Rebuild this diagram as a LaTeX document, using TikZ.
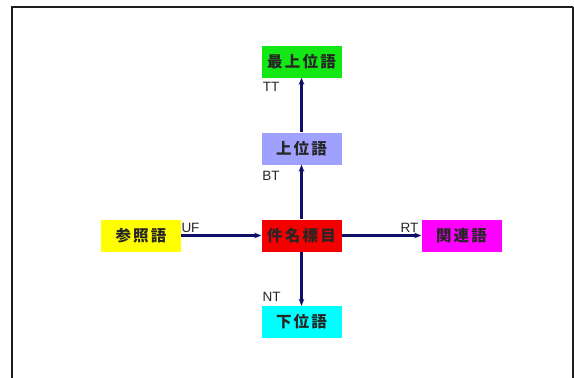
\documentclass[tikz,border=0pt]{standalone}
\usepackage{fontspec}
\setmainfont{Liberation Sans}
\newfontfamily\cjk{Noto Sans CJK JP}[LetterSpace=14]
\usetikzlibrary{arrows.meta}
\definecolor{cgreen}{RGB}{20,232,20}
\definecolor{clav}{RGB}{160,160,255}
\definecolor{cred}{RGB}{245,0,0}
\definecolor{cyel}{RGB}{255,255,0}
\definecolor{cmag}{RGB}{255,0,255}
\definecolor{ccyan}{RGB}{0,255,255}
\definecolor{navy}{RGB}{16,16,106}
\definecolor{frame}{RGB}{30,30,30}
\begin{document}
\begin{tikzpicture}[x=1pt,y=-1pt,
  termbox/.style={minimum width=80pt,minimum height=32pt,inner sep=0pt,
    font=\cjk\bfseries\fontsize{15.5}{15.5}\selectfont,text=black!85},
  conn/.style={draw=navy,line width=2.2pt,-{Stealth[length=7pt,width=5.5pt]}},
  rel/.style={font=\fontsize{13.5}{13.5}\selectfont,inner sep=0pt,text=black!85}]
\useasboundingbox (0,0) rectangle (574,378);
\fill[white] (0,0) rectangle (574,378);
\draw[frame,line width=2pt] (12,378) -- (12,7) -- (573,7);
\draw[frame,line width=1.5pt] (573,7) -- (573,378);
\node[termbox,fill=cgreen] (tt) at (301.5,61.5) {最上位語};
\node[termbox,fill=clav] (bt) at (301.5,148.5) {上位語};
\node[termbox,fill=cred] (main) at (301.5,235.5) {件名標目};
\node[termbox,fill=cyel] (uf) at (141,235.5) {参照語};
\node[termbox,fill=cmag] (rt) at (461.5,235.5) {関連語};
\node[termbox,fill=ccyan] (nt) at (301.5,322) {下位語};
\draw[conn] (bt) -- (tt);
\draw[conn] (main) -- (bt);
\draw[conn] (main) -- (nt);
\draw[conn] (uf) -- (main);
\draw[conn] (main) -- (rt);
\node[rel] (ltt) at (271,87) {TT};
\node[rel] (lbt) at (271,175.5) {BT};
\node[rel] (lnt) at (271.5,296.5) {NT};
\node[rel] (luf) at (190.5,228) {UF};
\node[rel] (lrt) at (409.5,228) {RT};
\end{tikzpicture}
\end{document}
